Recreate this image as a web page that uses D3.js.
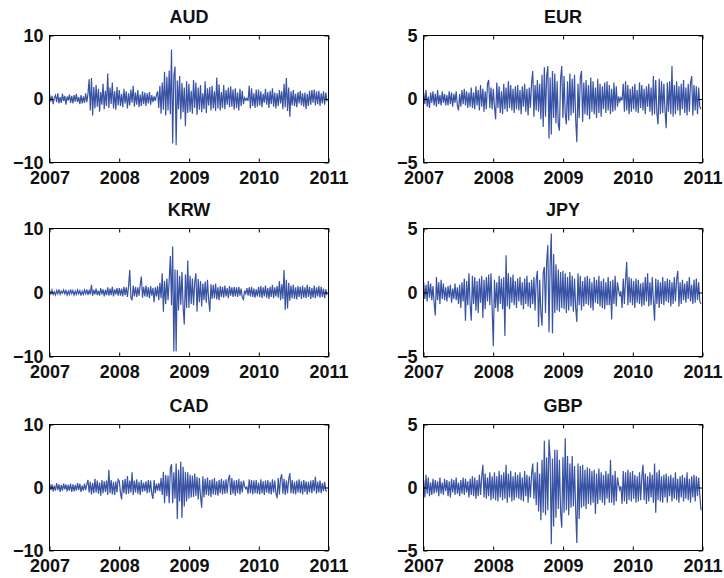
<!DOCTYPE html>
<html>
<head>
<meta charset="utf-8">
<script src="https://cdn.jsdelivr.net/npm/d3@7"></script>
<style>
  body { margin: 0; background: #fff; }
  svg text { font-family: "Liberation Sans", Arial, Helvetica, sans-serif; font-weight: bold; fill: #111; }
</style>
</head>
<body>
<div class="chart"></div>
<script>
// panel names, laid out row by row (left, right)
var currencies = ["AUD", "EUR", "KRW", "JPY", "CAD", "GBP"];
var yearTicks = [2007, 2008, 2009, 2010, 2011];
var wideTicks = [-10, 0, 10];
var narrowTicks = [-5, 0, 5];

// returns, about one sample every 6 days, 2007 to end of 2010
// (each row of 20 is roughly four months)
var audValues = [
  0.7,-0.4,0.5,-0.8,0.2,0.6,-0.5,0.9,-0.7,0.3,-0.6,0.8,-0.3,0.5,-0.9,0.4,-0.2,0.7,-0.6,0.5,
  -0.7,0.6,-0.4,0.8,-0.5,0.3,-0.8,0.6,-0.7,0.4,-0.6,0.9,-0.5,0.8,3.1,-1.8,3.3,-2.6,1.9,-1.5,
  2.2,-1.2,1.6,-2.0,1.1,-0.9,2.4,-1.6,1.3,-1.1,4.0,-1.4,1.8,-0.8,2.6,-1.5,1.2,-1.7,1.9,-1.0,
  1.4,-1.1,0.8,-1.3,1.6,-0.7,1.2,-1.5,0.9,-1.0,1.5,-0.6,2.1,-1.2,1.0,-0.9,1.4,-1.3,0.7,-1.1,
  1.2,-0.8,1.0,-1.1,0.9,-0.7,1.1,-0.9,0.6,-0.5,0.4,-0.3,0.6,1.2,-1.4,2.1,-2.3,2.6,-1.7,4.3,
  -2.6,3.5,-1.8,4.5,-2.4,7.8,-7.0,3.6,5.1,-7.3,2.9,-1.6,3.6,-3.2,2.5,-2.1,1.8,-4.3,2.8,-2.2,
  2.4,-2.0,1.3,-2.3,3.0,-1.4,2.6,-2.5,1.8,-1.7,2.2,-2.1,0.9,-1.6,2.8,-2.2,1.7,-1.0,1.9,-1.8,
  2.1,-1.5,1.2,-1.9,3.4,-1.5,2.3,-1.8,1.1,-1.4,2.2,-1.6,1.4,-0.9,1.8,-1.3,2.0,-1.2,1.5,-1.7,
  1.7,-1.4,1.0,-1.8,1.6,-1.1,1.3,-0.8,0.2,-0.2,0.1,-0.3,2.1,-1.5,1.7,-1.1,0.9,-1.4,1.5,-1.2,
  1.5,-1.0,1.2,-1.3,0.8,-0.6,1.6,-0.9,1.1,-1.4,1.3,-0.8,1.7,-1.2,1.0,-1.5,0.9,-1.1,1.4,-0.7,
  1.2,-1.6,2.4,-1.3,3.3,-1.9,1.8,-2.8,1.2,-1.0,1.4,-1.1,0.8,-1.3,1.1,-0.7,1.3,-1.0,0.9,-1.2,
  1.0,-1.6,0.8,-1.1,1.3,-0.9,1.4,-0.6,1.5,-1.0,1.2,-0.8,1.3,-1.1,0.9,-0.7,1.2,-0.9,1.0,-0.4
];
var eurValues = [
  0.5,-0.4,0.7,-0.6,0.2,-0.7,0.5,-0.3,0.6,-0.5,0.4,-0.6,0.7,-0.4,0.3,-0.5,0.6,-0.3,0.4,-0.5,
  0.3,-0.5,0.6,-0.4,0.5,-0.6,0.4,-0.3,0.6,-0.5,-0.9,0.4,-0.6,0.7,-0.4,0.8,-0.5,0.6,-0.7,0.5,
  -0.6,0.9,-0.7,0.5,-0.8,1.0,-0.5,0.7,-0.9,1.1,-0.6,0.8,-1.0,0.6,-0.8,1.2,1.5,-0.7,0.9,-0.8,
  0.8,-0.6,-1.6,1.3,-0.7,1.0,-1.1,0.6,-1.2,1.2,-0.8,0.9,-1.0,1.4,-0.7,1.1,-0.9,0.8,-1.1,1.0,
  -0.8,1.1,-0.9,0.7,-1.2,1.0,-0.6,1.2,-1.0,0.8,-1.3,0.9,-0.7,1.3,2.2,-1.4,1.1,-0.9,1.5,-1.0,
  1.2,-1.6,1.9,-2.2,2.5,-1.4,1.8,2.6,-3.1,1.7,-2.8,2.2,-1.5,2.0,-1.9,1.4,-2.0,-2.5,1.6,2.6,
  -1.5,1.8,-1.2,-2.0,1.4,-1.7,2.0,-1.3,1.6,-1.1,1.9,-1.6,-3.4,1.2,-1.5,1.7,2.2,-1.8,1.3,-1.2,
  1.5,-1.3,1.1,-1.6,1.7,-1.0,1.4,-1.2,0.9,-1.5,1.6,-1.1,1.2,-1.4,1.0,-0.8,1.3,-1.1,1.4,-0.9,
  1.1,-1.2,0.8,-1.0,1.3,-0.9,1.0,-0.6,0.2,-0.2,0.1,-0.1,1.2,-1.0,1.4,-0.9,1.1,-1.2,0.8,-1.0,
  1.0,-0.8,1.2,-1.0,0.7,-1.1,1.3,-0.7,1.1,-0.9,0.8,-1.2,1.0,-0.6,1.2,-1.0,0.9,-1.3,1.8,-1.2,
  1.5,-1.1,-2.0,1.6,-1.2,1.4,-1.1,1.2,-0.9,-2.3,1.3,-1.0,1.4,-1.2,2.6,-1.4,1.1,-1.2,1.4,-0.9,
  1.0,-1.3,1.2,-0.8,1.5,-1.1,0.9,-1.3,1.2,-1.0,1.3,1.8,-1.3,1.1,-0.9,1.0,-1.2,0.9,-0.6,-0.8
];
var krwValues = [
  0.3,-0.2,0.4,-0.3,0.1,-0.4,0.3,-0.2,0.5,-0.3,0.2,-0.1,0.4,-0.2,0.3,-0.4,0.2,-0.3,0.5,-0.2,
  0.3,-0.4,0.2,-0.3,0.4,-0.2,0.3,-0.5,0.2,-0.3,0.4,-0.2,0.5,-0.4,0.3,-0.3,1.2,-0.5,0.4,-0.3,
  0.6,-0.4,0.3,-0.5,0.7,-0.3,0.5,-0.6,0.4,-0.4,0.8,-0.5,0.6,-0.4,0.9,-0.6,0.5,-0.3,0.7,-0.5,
  0.7,-0.5,0.6,-0.6,0.9,-0.4,0.8,-0.7,1.0,3.5,-0.8,-1.2,1.1,-0.6,0.9,-0.7,0.8,-0.5,1.2,2.5,
  -0.8,0.9,-0.6,1.1,-0.7,0.8,-0.9,1.0,-0.5,0.7,-1.5,0.8,-0.6,1.0,-1.2,1.5,-0.9,3.0,-3.0,1.8,
  -1.8,2.2,-1.2,1.9,5.7,-2.0,7.2,-9.2,3.6,-9.2,3.5,-2.8,2.6,-1.9,3.2,-2.2,-5.0,2.8,-2.4,5.0,
  -2.4,2.6,-1.8,2.2,-2.0,1.6,3.0,-3.0,2.1,-1.5,1.8,-2.2,1.4,-1.2,1.7,-1.6,2.0,-1.1,-3.0,1.3,
  -1.0,1.2,-0.9,1.4,-1.1,0.8,-1.2,1.0,-0.7,0.9,-0.8,1.1,-0.6,0.7,-0.9,1.0,-0.5,0.8,-0.7,0.9,
  -0.6,0.8,-0.7,0.9,-0.5,0.6,-0.8,-1.1,0.3,-0.2,0.7,-0.5,0.8,-0.6,0.9,-0.7,0.6,-0.8,0.5,-0.6,
  0.9,-0.7,1.0,-0.9,0.8,-0.6,1.1,-0.8,0.7,-1.0,0.9,-0.7,1.2,-0.9,0.8,-0.6,1.0,-0.8,1.8,-1.2,
  1.3,-1.0,3.5,-2.7,2.0,-2.5,1.5,-1.3,1.1,-0.9,1.2,-1.0,0.8,-1.1,1.0,-0.7,0.9,-1.0,1.1,-0.8,
  0.8,-0.9,1.2,-0.7,0.9,-1.0,0.7,-0.8,1.1,-0.9,0.8,-0.6,1.0,-0.8,0.9,-0.7,0.6,-0.9,0.5,-0.4
];
var jpyValues = [
  0.8,-0.5,0.6,-0.7,0.9,-0.4,0.7,-0.6,0.5,-0.8,-1.8,1.2,-0.6,0.8,-0.9,1.0,-0.5,0.7,-0.6,0.4,
  -0.7,0.5,-0.4,0.6,-0.8,0.3,-0.5,0.7,-0.6,0.4,-0.9,0.6,-1.2,0.8,-0.7,1.1,-2.2,0.9,-1.0,1.5,
  -0.9,-2.2,1.3,-0.9,1.2,-1.4,0.9,-1.6,1.1,-0.8,1.3,-2.0,1.0,-1.3,1.2,-0.7,1.4,-1.0,1.5,-1.2,
  -4.2,1.0,-1.2,0.8,-1.5,1.3,-0.9,1.1,-1.3,1.2,-3.4,2.9,-1.1,1.5,-1.3,1.2,-0.8,1.4,-1.0,0.9,
  -1.2,1.1,-0.7,1.2,-1.0,0.8,-1.3,1.1,-0.9,1.3,-1.1,0.8,-1.2,1.0,-0.9,1.2,-1.4,1.0,1.7,-2.7,
  1.0,-1.6,-2.6,1.5,2.0,-1.6,2.4,3.7,-3.1,2.2,4.6,-3.2,3.0,-1.6,2.2,-1.4,1.8,-1.5,1.6,-1.2,
  1.7,-1.3,1.5,-1.6,1.2,-1.4,1.6,-1.1,1.3,-1.5,1.1,-1.2,-2.3,1.5,-1.0,1.3,-1.4,0.9,-1.1,1.2,
  -0.9,1.3,-1.0,1.1,-1.2,0.8,-1.4,1.2,-0.8,1.0,-0.9,1.3,-1.1,0.9,-1.2,1.1,-1.3,0.8,-1.0,1.2,
  -1.0,0.9,-2.1,1.0,-0.9,1.3,-1.1,0.8,0.2,-0.3,0.1,-1.2,1.1,-0.9,1.0,2.4,-1.0,1.2,-0.8,1.1,
  -1.0,0.9,-1.2,1.1,-0.8,1.0,-0.9,0.7,-1.1,0.8,-1.0,1.2,-0.7,1.5,-1.1,0.8,-1.0,1.2,-0.7,-2.2,
  1.1,-0.9,1.0,-1.2,0.8,-0.9,1.2,-1.0,0.9,-0.7,1.1,-0.8,1.0,-1.1,0.8,-0.9,1.2,-0.7,1.0,1.7,
  -1.1,0.8,-0.9,1.0,-0.6,0.7,-0.8,0.9,-0.5,1.2,-0.7,0.6,-0.9,1.0,-0.8,1.1,-0.6,0.8,-0.7,-0.9
];
var cadValues = [
  0.6,-0.4,0.5,-0.6,0.3,-0.5,0.7,-0.4,0.5,-0.7,0.4,-0.5,0.6,-0.3,0.5,-0.6,0.4,-0.5,0.6,-0.7,
  0.5,-0.6,0.4,-0.5,0.7,-0.4,0.6,-0.7,0.3,-0.5,0.6,-0.4,0.5,1.2,-0.8,0.9,-1.1,0.7,-0.9,1.4,
  -0.8,1.1,-1.0,0.8,-1.3,1.2,-0.9,1.0,-0.7,1.1,-1.2,2.8,-0.9,1.2,-1.1,0.9,-1.2,1.0,-0.8,1.3,
  1.0,-0.9,-1.9,1.2,-0.9,1.4,-1.1,1.8,-1.0,1.1,-0.8,2.4,-1.2,1.1,-0.8,1.3,-1.0,0.9,-1.2,1.2,
  -0.7,0.8,-0.6,1.0,-0.9,1.2,-0.8,1.1,-1.0,-1.8,1.2,-0.9,0.6,-0.5,0.7,-0.6,1.5,-1.2,2.5,-2.5,
  2.0,-1.4,1.9,-2.5,3.0,3.7,-2.5,2.4,-1.8,3.8,-5.0,2.8,-2.2,4.1,-4.8,3.3,-3.0,2.5,-2.2,2.4,
  -1.8,2.0,-1.6,1.9,-1.5,2.2,-1.3,1.7,-1.9,1.5,-1.4,-3.2,1.8,-1.6,1.4,-1.2,1.6,-1.3,1.2,-1.5,
  1.3,-1.1,1.5,-1.2,1.0,-1.3,1.2,-0.9,1.4,-1.1,1.1,-1.0,1.3,-0.9,1.2,2.0,-1.2,1.5,-1.0,1.1,
  -1.3,1.2,-0.9,1.4,-1.1,1.0,-0.8,1.1,0.2,-0.2,0.1,-1.0,1.3,-0.9,1.2,-1.1,1.1,-0.9,1.2,-1.0,
  0.8,-1.1,1.3,-0.9,1.0,-1.2,1.1,-0.8,1.2,-1.0,0.9,-1.1,1.3,-0.8,1.1,-0.9,-1.7,1.5,-1.1,1.4,
  2.1,-1.0,1.4,-1.2,1.1,-0.9,1.3,2.3,-0.9,1.2,-1.0,0.9,-1.1,1.1,-0.8,1.3,-0.9,1.0,-1.1,1.2,
  -0.7,1.0,-1.1,0.9,-0.8,1.1,-0.9,1.2,-0.6,1.7,-1.0,0.9,-0.8,1.1,-0.9,0.7,-0.6,0.9,-0.5,-0.6
];
var gbpValues = [
  0.6,-0.8,1.0,-0.5,0.8,-0.7,0.4,-0.6,0.7,-0.5,0.6,-0.4,0.5,-0.7,0.8,-0.5,0.4,-0.6,0.7,-0.3,
  0.6,-0.7,0.5,-0.8,0.7,-0.4,0.6,-0.6,0.8,-0.5,0.4,-0.7,0.6,-0.5,0.8,-0.6,0.7,-0.4,0.5,-0.8,
  0.7,-0.6,0.9,-0.7,0.8,-0.9,0.6,-0.7,1.0,-0.6,0.8,1.8,-0.8,1.1,-0.9,0.8,-0.7,1.2,-1.0,0.9,
  -0.9,1.2,-1.0,0.9,-1.1,1.3,-0.8,1.0,-1.0,1.2,-0.9,1.8,-1.2,1.1,-0.8,1.3,-1.1,0.9,-1.0,1.2,
  -0.8,1.0,-0.9,1.2,-1.0,0.8,-1.1,1.3,-0.7,1.0,-1.2,0.9,-0.8,1.1,1.9,-0.9,1.2,-1.4,2.0,-1.9,
  1.1,-2.6,2.2,-2.0,3.7,-2.2,2.4,-1.8,3.8,2.3,-4.5,2.3,-3.1,3.0,-2.4,3.0,-1.7,2.2,-2.0,-3.2,
  2.4,-2.0,3.9,-1.8,2.5,-2.2,1.9,-1.6,2.5,-1.5,1.7,-1.8,-4.4,1.9,-2.5,1.7,-1.6,1.8,-1.5,1.4,
  -1.7,1.6,-1.3,1.5,-1.4,1.3,-1.2,1.4,-2.1,1.1,-1.3,1.5,-1.0,1.2,-1.2,1.0,-1.4,1.3,-0.9,1.1,
  -1.2,2.2,-1.2,1.0,-1.4,1.3,-1.1,0.8,0.2,-0.2,0.1,-1.3,1.3,-1.1,1.2,-1.3,1.4,-1.0,1.2,-1.1,
  1.3,-0.9,1.0,-1.2,0.9,-1.1,1.2,-1.0,0.8,1.8,-1.0,1.1,-1.3,0.9,-1.1,1.2,-0.8,1.0,-1.2,1.9,
  -2.0,1.2,-1.0,1.4,-1.1,0.9,-1.2,1.0,-0.8,1.1,-1.2,0.9,-0.7,1.0,-1.1,0.8,-0.9,1.2,-1.0,0.7,
  -1.2,0.9,-0.8,1.0,-1.1,0.8,-0.9,1.2,-1.0,0.7,-1.2,0.9,-0.8,1.0,-1.1,0.9,-0.7,0.8,-0.6,-1.8
];
var firstDay = new Date(2007, 0, 2);
var lastDay = new Date(2010, 11, 24);

var seriesValues = [audValues, eurValues, krwValues, jpyValues, cadValues, gbpValues];
var seriesTicks = [wideTicks, narrowTicks, wideTicks, narrowTicks, wideTicks, narrowTicks];

// page and panel geometry
var svgWidth = 724, svgHeight = 578;
var colLeft = [49.5, 423.5];
var rowTop = [35.5, 228.5, 424.5];
var rowHeight = [127, 128, 126];
var plotWidth = 279;
var lineColor = "#3953a4";

var svg = d3.select(".chart")
  .append("svg")
  .attr("width", svgWidth)
  .attr("height", svgHeight);

svg.append("rect").attr("width", svgWidth).attr("height", svgHeight).attr("fill", "#fff");

var yearDates = yearTicks.map(function(y) { return new Date(y, 0, 1); });

currencies.forEach(function(name, k) {
  var values = seriesValues[k];
  var ticks = seriesTicks[k];
  var h = rowHeight[Math.floor(k / 2)];
  var g = svg.append("g")
    .attr("transform", "translate(" + colLeft[k % 2] + "," + rowTop[Math.floor(k / 2)] + ")");

  var x = d3.scaleTime().domain([yearDates[0], yearDates[yearDates.length - 1]]).range([0, plotWidth]);
  var y = d3.scaleLinear().domain([ticks[0], ticks[2]]).range([h, 0]);
  // spreads the samples evenly across the trading period
  var dayScale = d3.scaleTime().domain([firstDay, lastDay]).range([0, values.length - 1]);

  var line = d3.line()
    .x(function(d, i) { return x(dayScale.invert(i)); })
    .y(function(d) { return y(d); });

  g.append("path")
    .datum(values)
    .attr("fill", "none")
    .attr("stroke", lineColor)
    .attr("stroke-width", 1.2)
    .attr("d", line);

  // ticks point inwards, MATLAB style, and are mirrored on top / right
  var bottom = g.append("g")
    .attr("transform", "translate(0," + h + ")")
    .call(d3.axisBottom(x).tickValues(yearDates).tickFormat(d3.timeFormat("%Y"))
      .tickSizeInner(-4).tickSizeOuter(0).tickPadding(9));
  var top = g.append("g")
    .call(d3.axisTop(x).tickValues(yearDates).tickFormat("").tickSizeInner(-4).tickSizeOuter(0));
  var left = g.append("g")
    .call(d3.axisLeft(y).tickValues(ticks).tickSizeInner(-4).tickSizeOuter(0).tickPadding(6));
  var right = g.append("g")
    .attr("transform", "translate(" + plotWidth + ",0)")
    .call(d3.axisRight(y).tickValues(ticks).tickFormat("").tickSizeInner(-4).tickSizeOuter(0));

  [bottom, top, left, right].forEach(function(a) {
    a.select(".domain").remove();
    a.attr("font-family", null).attr("font-size", 18);
    a.selectAll(".tick line").attr("stroke", "#000");
  });
  top.selectAll("text").remove();
  right.selectAll("text").remove();

  g.append("rect")
    .attr("width", plotWidth)
    .attr("height", h)
    .attr("fill", "none")
    .attr("stroke", "#000")
    .attr("stroke-width", 1);

  g.append("text")
    .attr("x", plotWidth / 2)
    .attr("y", -13)
    .attr("text-anchor", "middle")
    .style("font-size", "18px")
    .text(name);
});
</script>
</body>
</html>
